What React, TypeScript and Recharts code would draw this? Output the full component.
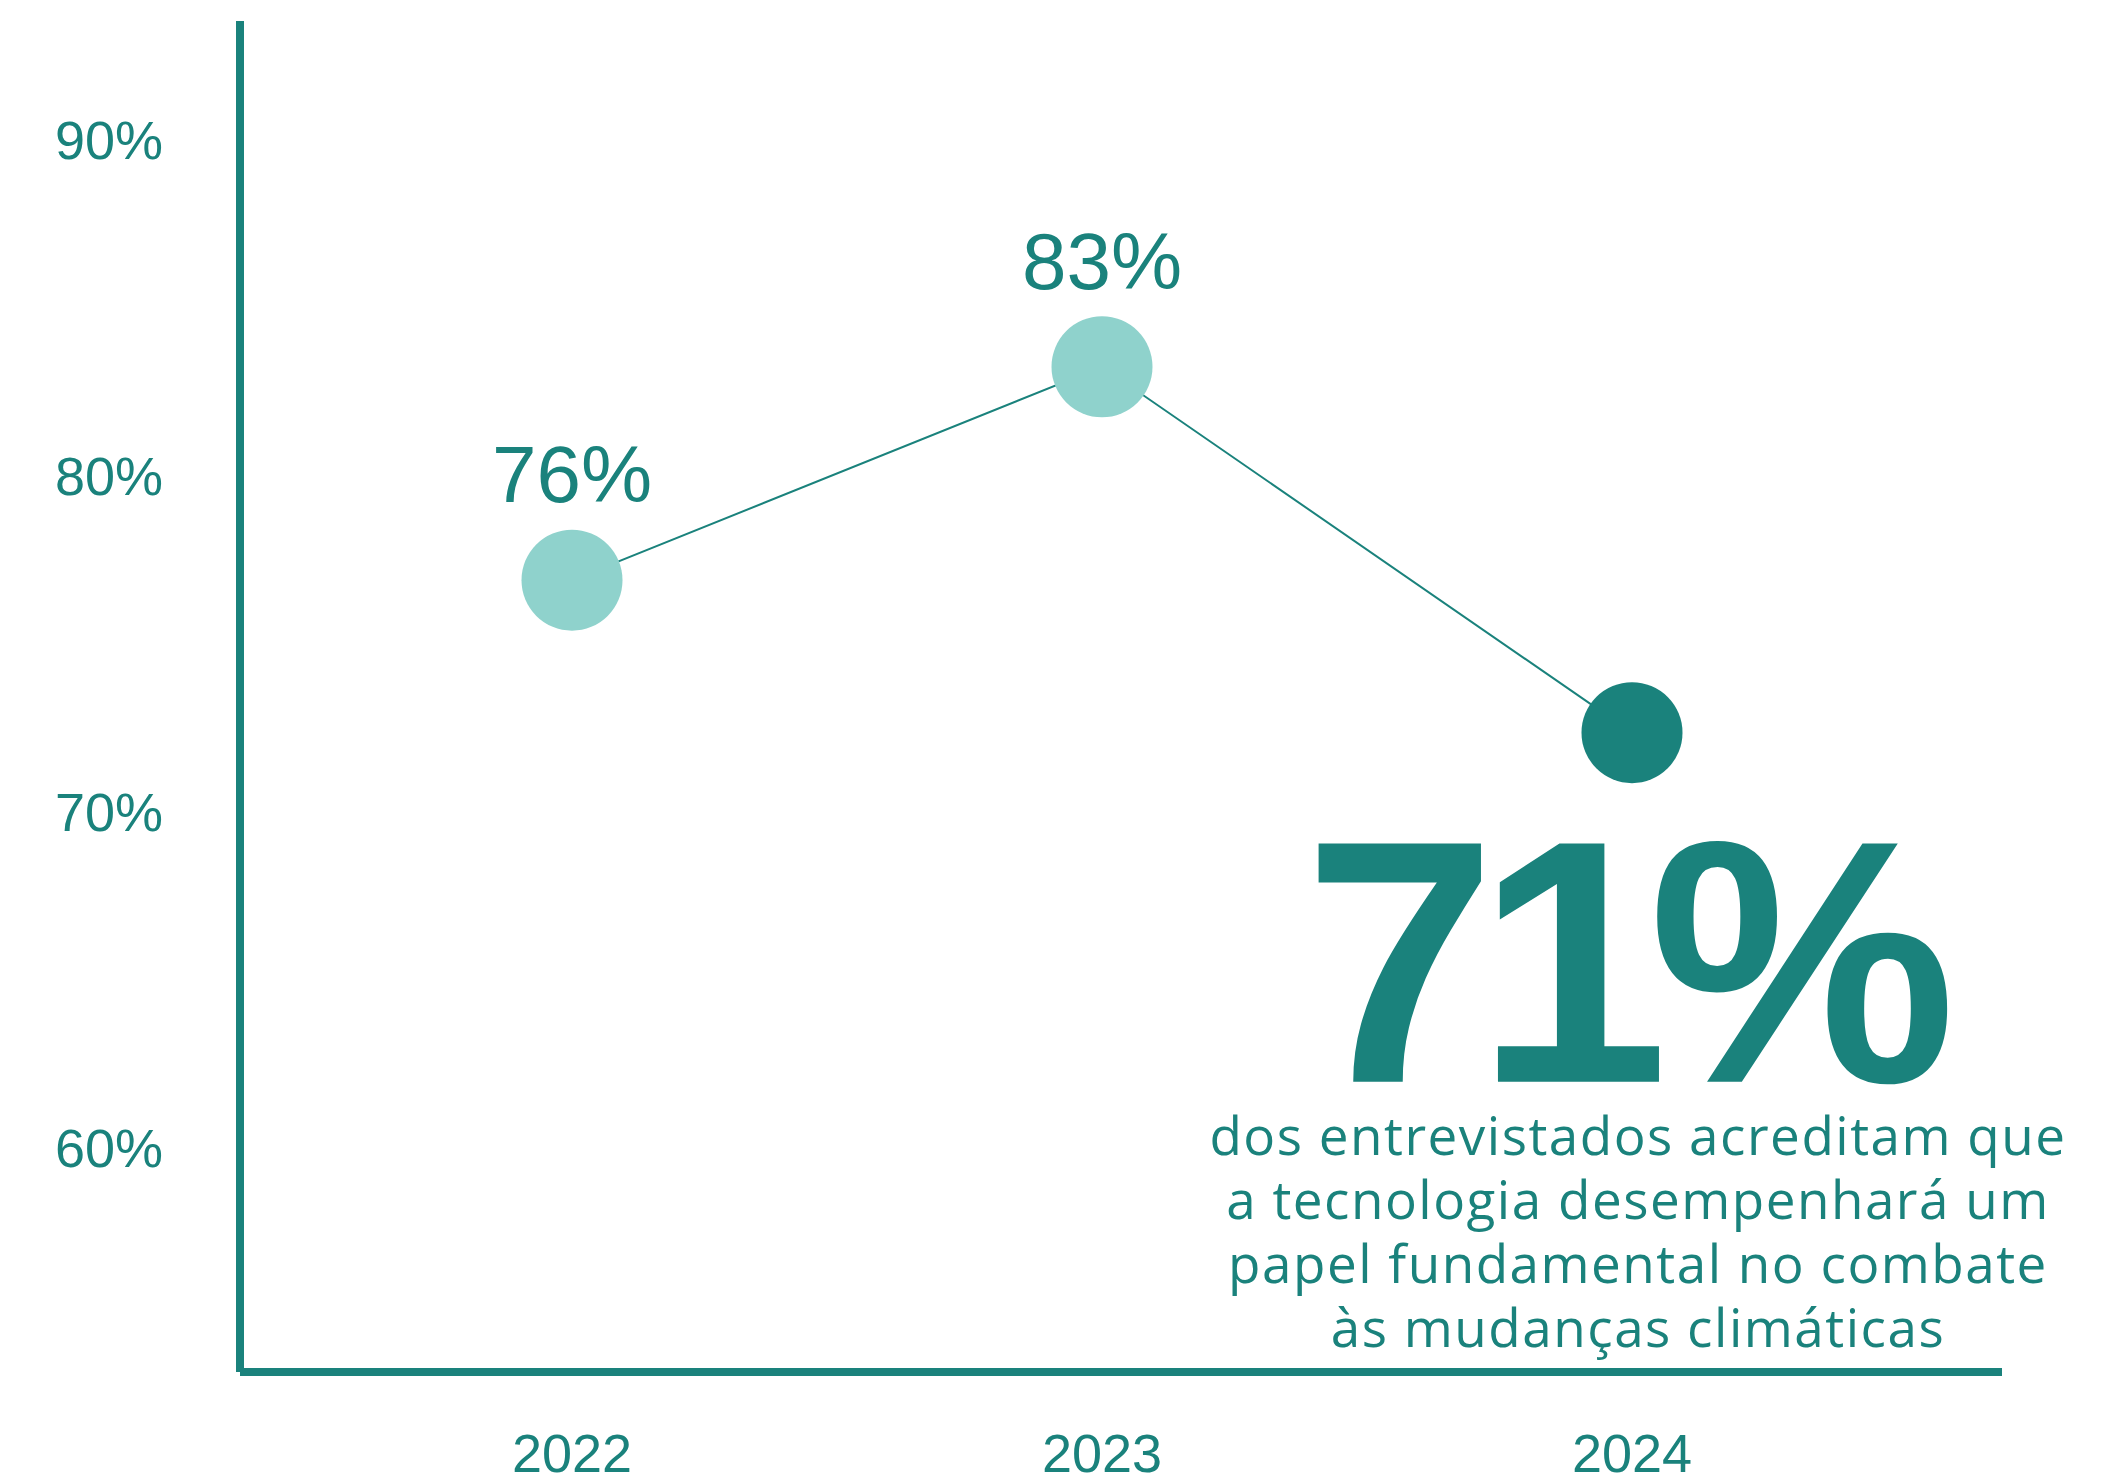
import { LineChart, Line, XAxis, YAxis, LabelList } from 'recharts';

const years = ['2022', '2023', '2024'];
const shares = [76, 83, 71];
const yTicks = [60, 70, 80, 90];
const noteLines = [
  'dos entrevistados acreditam que',
  'a tecnologia desempenhará um',
  'papel fundamental no combate',
  'às mudanças climáticas',
];

const TEAL = '#1a827c';
const MINT = '#8fd2cc';
const dotFills = [MINT, MINT, TEAL];
const SANS = '"Liberation Sans", Arial, sans-serif';

const data = years.map((year, i) => ({ year, share: shares[i] }));

// small % above the first points, the big headline + note under the last one
function PointLabel(props: any) {
  const { x, y, index, value } = props;
  if (index < shares.length - 1) {
    return (
      <text x={x} y={y - 78} textAnchor="middle" fontSize={80} fill={TEAL} fontFamily={SANS}>
        {value}%
      </text>
    );
  }
  return (
    <g>
      <text
        x={x - 12} y={y + 349} textAnchor="middle" fontSize={346} fontWeight={700}
        letterSpacing={-20} fill={TEAL} fontFamily={SANS}
      >
        {value}%
      </text>
      <text textAnchor="middle" fontSize={53} letterSpacing={1.5} fill={TEAL} fontFamily='"Open Sans", sans-serif'>
        {noteLines.map((line, i) => (
          <tspan key={i} x={x + 6} y={y + 422 + i * 64}>{line}</tspan>
        ))}
      </text>
    </g>
  );
}

export default function App() {
  return (
    <div style={{ position: 'absolute', top: 0, left: 0, width: 2111, height: 1476, background: '#fff' }}>
      <LineChart width={2111} height={1476} data={data} margin={{ top: 21, right: 109, bottom: 0, left: 0 }}>
        <XAxis
          dataKey="year" height={104} tickLine={false} tickSize={0} tickMargin={62}
          padding={{ left: 332, right: 370 }}
          axisLine={{ stroke: TEAL, strokeWidth: 8 }}
          tick={{ fill: TEAL, fontSize: 54, fontFamily: SANS }}
        />
        <YAxis
          yAxisId="ticks" type="number" domain={[53.31, 93.54]} ticks={yTicks} allowDataOverflow
          width={240} tickLine={false} tickSize={0} tickMargin={77}
          axisLine={{ stroke: TEAL, strokeWidth: 8 }}
          tick={{ fill: TEAL, fontSize: 54, fontFamily: SANS }}
          tickFormatter={(v: number) => `${v}%`}
        />
        <YAxis yAxisId="data" orientation="right" width={0} type="number" domain={[50.03, 94.34]} allowDataOverflow hide />
        <Line
          yAxisId="data" dataKey="share" stroke={TEAL} strokeWidth={2} isAnimationActive={false}
          dot={(p: any) => <circle key={p.index} cx={p.cx} cy={p.cy} r={50.5} fill={dotFills[p.index]} />}
          activeDot={false}
        >
          <LabelList dataKey="share" content={PointLabel} />
        </Line>
      </LineChart>
    </div>
  );
}
